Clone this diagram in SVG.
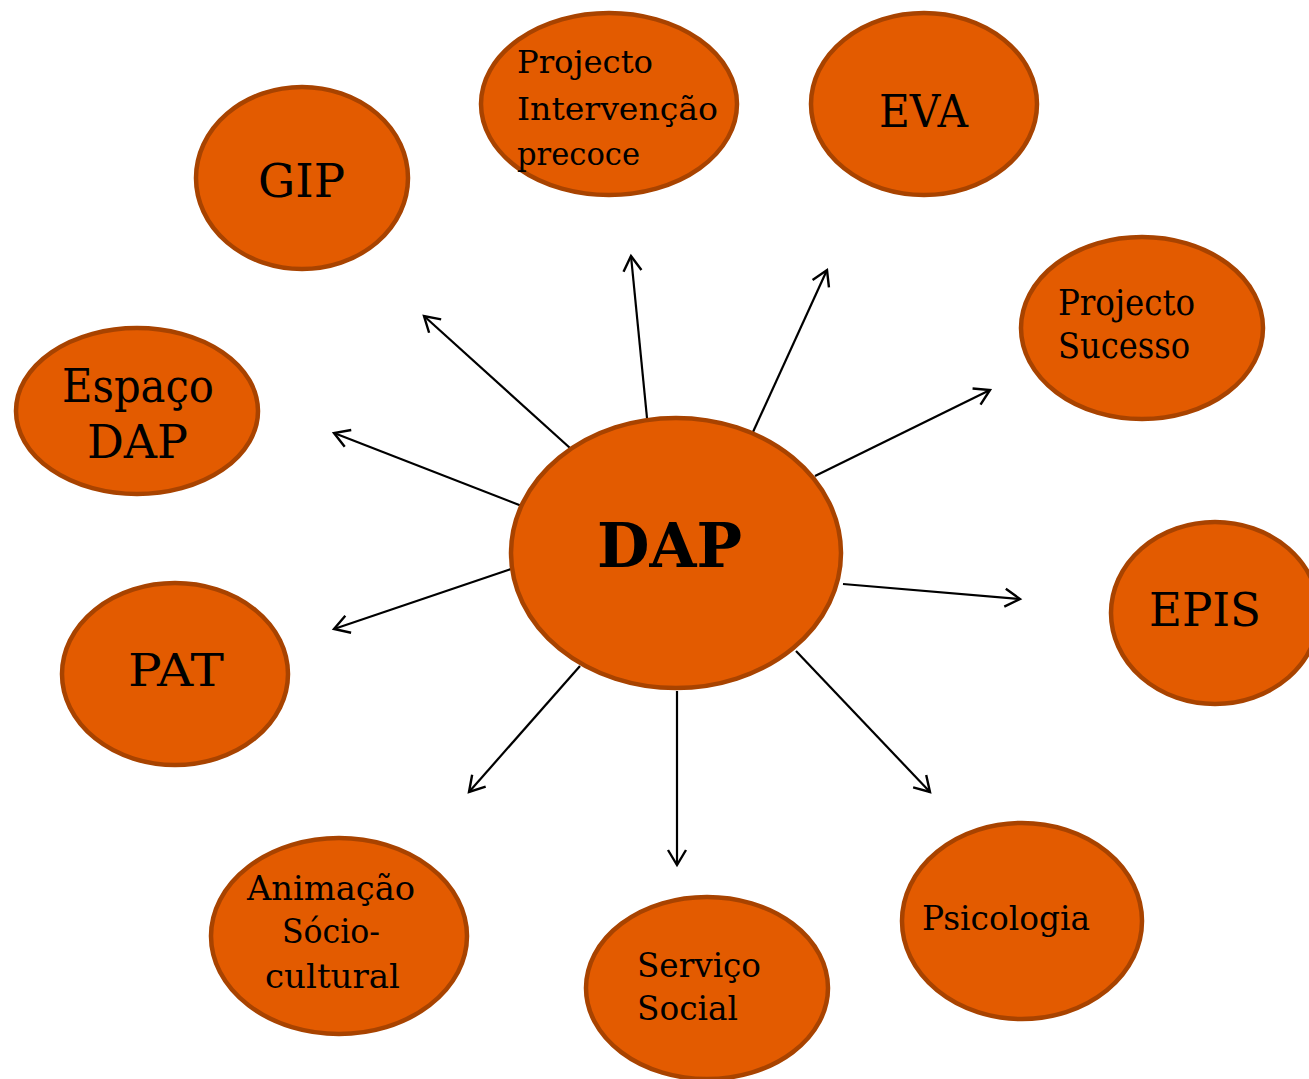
<svg xmlns="http://www.w3.org/2000/svg" width="1309" height="1079" viewBox="0 0 1309 1079">
<style>
.n{fill:#E35B00;stroke:#A84300;stroke-width:4.5}
.t{font-family:"DejaVu Serif","Liberation Serif",serif;fill:#000}
.c line{stroke:#000;stroke-width:2.2;marker-end:url(#ah)}
</style>
<defs>
<marker id="ah" markerUnits="userSpaceOnUse" markerWidth="24" markerHeight="24" refX="18" refY="12" orient="auto" viewBox="0 0 24 24">
<path d="M3,3 L18,12 L3,21" fill="none" stroke="#000" stroke-width="2.4"/>
</marker>
</defs>
<rect width="1309" height="1079" fill="#fff"/>
<g class="c" id="connectors">
<line x1="570" y1="448" x2="424" y2="316"/>
<line x1="647" y1="418" x2="631" y2="256"/>
<line x1="753" y1="432" x2="827" y2="270"/>
<line x1="815" y1="476" x2="990" y2="390"/>
<line x1="843" y1="584" x2="1020" y2="599"/>
<line x1="796" y1="651" x2="930" y2="792"/>
<line x1="677" y1="691" x2="677" y2="865"/>
<line x1="580" y1="666" x2="469" y2="792"/>
<line x1="511" y1="569" x2="334" y2="629"/>
<line x1="527" y1="508" x2="334" y2="433"/>
</g>
<g id="dap">
<ellipse class="n" cx="676" cy="553" rx="165" ry="135"/>
<text class="t" x="597" y="567" font-size="62" font-weight="bold" textLength="145" lengthAdjust="spacingAndGlyphs">DAP</text>
</g>
<g id="pip">
<ellipse class="n" cx="609" cy="104" rx="128" ry="91"/>
<text class="t" font-size="31"><tspan x="517" y="73" textLength="136" lengthAdjust="spacingAndGlyphs">Projecto</tspan><tspan x="517" y="120" textLength="201" lengthAdjust="spacingAndGlyphs">Intervenção</tspan><tspan x="517" y="165" textLength="123" lengthAdjust="spacingAndGlyphs">precoce</tspan></text>
</g>
<g id="eva">
<ellipse class="n" cx="924" cy="104" rx="113" ry="91"/>
<text class="t" x="879" y="127" font-size="45" textLength="89" lengthAdjust="spacingAndGlyphs">EVA</text>
</g>
<g id="gip">
<ellipse class="n" cx="302" cy="178" rx="106" ry="91"/>
<text class="t" x="258" y="197" font-size="46" textLength="87" lengthAdjust="spacingAndGlyphs">GIP</text>
</g>
<g id="sucesso">
<ellipse class="n" cx="1142" cy="328" rx="121" ry="91"/>
<text class="t" font-size="35"><tspan x="1058" y="315" textLength="137" lengthAdjust="spacingAndGlyphs">Projecto</tspan><tspan x="1058" y="358" textLength="132" lengthAdjust="spacingAndGlyphs">Sucesso</tspan></text>
</g>
<g id="espaco">
<ellipse class="n" cx="137" cy="411" rx="121" ry="83"/>
<text class="t" font-size="47"><tspan x="62" y="402" textLength="152" lengthAdjust="spacingAndGlyphs">Espaço</tspan><tspan x="87" y="458" textLength="101" lengthAdjust="spacingAndGlyphs">DAP</tspan></text>
</g>
<g id="epis">
<ellipse class="n" cx="1215" cy="613" rx="104" ry="91"/>
<text class="t" x="1149" y="626" font-size="46" textLength="112" lengthAdjust="spacingAndGlyphs">EPIS</text>
</g>
<g id="pat">
<ellipse class="n" cx="175" cy="674" rx="113" ry="91"/>
<text class="t" x="128" y="686" font-size="45" textLength="96" lengthAdjust="spacingAndGlyphs">PAT</text>
</g>
<g id="animacao">
<ellipse class="n" cx="339" cy="936" rx="128" ry="98"/>
<text class="t" font-size="34"><tspan x="247" y="900" textLength="168" lengthAdjust="spacingAndGlyphs">Animação</tspan><tspan x="282" y="943" textLength="98" lengthAdjust="spacingAndGlyphs">Sócio-</tspan><tspan x="265" y="988" textLength="135" lengthAdjust="spacingAndGlyphs">cultural</tspan></text>
</g>
<g id="servico">
<ellipse class="n" cx="707" cy="988" rx="121" ry="91"/>
<text class="t" font-size="34"><tspan x="637" y="977" textLength="124" lengthAdjust="spacingAndGlyphs">Serviço</tspan><tspan x="637" y="1020" textLength="101" lengthAdjust="spacingAndGlyphs">Social</tspan></text>
</g>
<g id="psicologia">
<ellipse class="n" cx="1022" cy="921" rx="120" ry="98"/>
<text class="t" x="922" y="930" font-size="34" textLength="168" lengthAdjust="spacingAndGlyphs">Psicologia</text>
</g>
</svg>
